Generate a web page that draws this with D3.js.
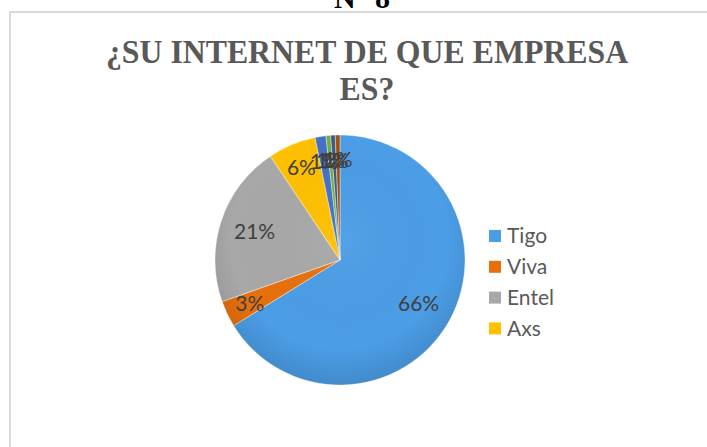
<!DOCTYPE html>
<html>
<head>
<meta charset="utf-8">
<script src="https://cdn.jsdelivr.net/npm/d3@7"></script>
<style>
  body { margin: 0; background: #fff; }
  svg { display: block; }
</style>
</head>
<body>
<script>
// Chart data
var categories = ["Tigo", "Viva", "Entel", "Axs", "Otro 1", "Otro 2", "Otro 3", "Otro 4"];
var percentValues = [66.2, 3.4, 21.0, 6.2, 1.4, 0.6, 0.6, 0.6];
var sliceColors = ["#4b9de6", "#e8700c", "#a8a8a8", "#ffc000", "#4472c4", "#70ad47", "#3e5b86", "#a4500f"];
var legendItems = ["Tigo", "Viva", "Entel", "Axs"];

var width = 707;
var height = 447;

var svg = d3.select("body").append("svg")
    .attr("width", width)
    .attr("height", height);

var defs = svg.append("defs");
// soft shading so the pie looks a little beveled
var shade = defs.append("radialGradient")
    .attr("id", "shade")
    .attr("gradientUnits", "userSpaceOnUse")
    .attr("cx", 0).attr("cy", -20).attr("r", 145);
shade.append("stop").attr("offset", "0%").attr("stop-color", "#fff").attr("stop-opacity", 0.05);
shade.append("stop").attr("offset", "75%").attr("stop-color", "#000").attr("stop-opacity", 0.0);
shade.append("stop").attr("offset", "100%").attr("stop-color", "#000").attr("stop-opacity", 0.12);

// chart frame
svg.append("rect")
    .attr("x", 10).attr("y", 12)
    .attr("width", 720).attr("height", 460)
    .attr("fill", "#fff")
    .attr("stroke", "#d9d9d9")
    .attr("stroke-width", 2);

// heading from the document, cut off at the top
svg.append("text")
    .attr("x", 362).attr("y", 8)
    .attr("text-anchor", "middle")
    .attr("font-family", "Liberation Serif, serif")
    .attr("font-weight", "bold")
    .attr("font-size", 30)
    .attr("fill", "#000")
    .text("N° 8");

// title (squeezed a bit, like the original)
var titleLines = ["¿SU INTERNET DE QUE EMPRESA", "ES?"];
svg.append("g")
    .attr("transform", "translate(367,0) scale(0.935,1)")
    .selectAll(".title")
    .data(titleLines)
    .enter()
    .append("text")
    .attr("class", "title")
    .attr("x", 0)
    .attr("y", function(d, i) { return 63 + i * 37; })
    .attr("text-anchor", "middle")
    .attr("font-family", "Liberation Serif, serif")
    .attr("font-weight", "bold")
    .attr("font-size", 34)
    .attr("fill", "#595959")
    .text(function(d) { return d; });

// pie
var cx = 340, cy = 260, radius = 125;

var pie = d3.pie().sort(null).value(function(d) { return d; });
var arcs = pie(percentValues);
var arc = d3.arc().innerRadius(0).outerRadius(radius);
var labelArc = d3.arc().innerRadius(radius * 0.72).outerRadius(radius * 0.72);
var smallLabelArc = d3.arc().innerRadius(radius * 0.8).outerRadius(radius * 0.8);

var g = svg.append("g").attr("transform", "translate(" + cx + "," + cy + ")");

g.selectAll("path.slice")
    .data(arcs)
    .enter()
    .append("path")
    .attr("class", "slice")
    .attr("d", arc)
    .attr("fill", function(d, i) { return sliceColors[i]; })
    .attr("stroke", "#fff")
    .attr("stroke-width", 0.4);

g.append("circle")
    .attr("r", radius)
    .attr("fill", "url(#shade)");

g.selectAll("text.pct")
    .data(arcs)
    .enter()
    .append("text")
    .attr("class", "pct")
    .attr("transform", function(d) {
      var a = d.data < 10 ? smallLabelArc : labelArc;
      return "translate(" + a.centroid(d) + ")";
    })
    .attr("text-anchor", "middle")
    .attr("dy", "0.35em")
    .attr("font-family", "Lato, 'Open Sans', sans-serif")
    .attr("font-size", 21)
    .attr("fill", "#404040")
    .text(function(d) { return Math.round(d.data) + "%"; });

// legend (only four entries fit)
var legend = svg.selectAll(".legend")
    .data(legendItems)
    .enter()
    .append("g")
    .attr("class", "legend")
    .attr("transform", function(d, i) { return "translate(489," + (236 + i * 30.8) + ")"; });

legend.append("rect")
    .attr("x", 0).attr("y", -6)
    .attr("width", 12).attr("height", 12)
    .attr("fill", function(d, i) { return sliceColors[i]; });

legend.append("text")
    .attr("x", 18)
    .attr("dy", "0.35em")
    .attr("font-family", "Lato, 'Open Sans', sans-serif")
    .attr("font-size", 21)
    .attr("fill", "#595959")
    .text(function(d) { return d; });
</script>
</body>
</html>
